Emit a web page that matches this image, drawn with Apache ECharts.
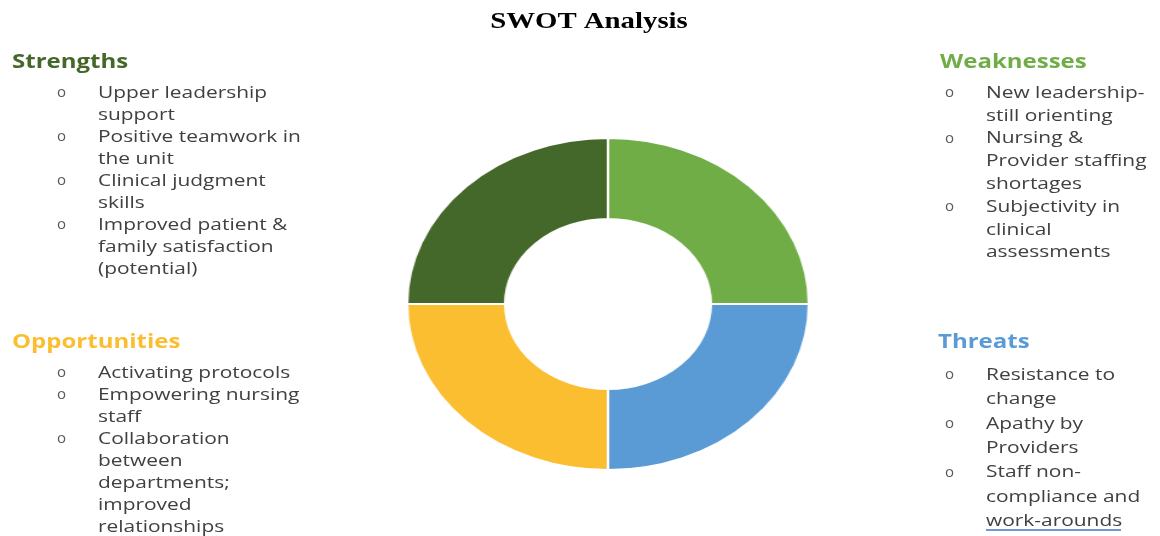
<!DOCTYPE html>
<html>
<head>
<meta charset="utf-8">
<script src="https://cdn.jsdelivr.net/npm/echarts@6/dist/echarts.min.js"></script>
<style>
  body { margin: 0; background: #fff; }
  #main { position: absolute; left: 0; top: 0; width: 1160px; height: 536px; }
  #donut { position: absolute; left: 438px; top: 134px; width: 340px; height: 340px;
           transform: scaleX(1.21); transform-origin: 170px 170px; }
</style>
</head>
<body>
<div id="main"></div>
<div id="donut"></div>
<script>
// quadrants, clockwise from the top
const categories = ['Weaknesses', 'Threats', 'Opportunities', 'Strengths']
const values = [1, 1, 1, 1]
const colors = ['#70ad47', '#5b9bd5', '#fbbe31', '#44682a']

const strengths = [['Upper leadership', 'support'], ['Positive teamwork in', 'the unit'],
  ['Clinical judgment', 'skills'], ['Improved patient &', 'family satisfaction', '(potential)']]
const weaknesses = [['New leadership-', 'still orienting'], ['Nursing &', 'Provider staffing', 'shortages'],
  ['Subjectivity in', 'clinical', 'assessments']]
const opportunities = [['Activating protocols'], ['Empowering nursing', 'staff'],
  ['Collaboration', 'between', 'departments;', 'improved', 'relationships']]
const threats = [['Resistance to', 'change'], ['Apathy by', 'Providers'],
  ['Staff non-', 'compliance and', 'work-arounds']]

// the original picture is stretched sideways, so texts are widened too
const stretch = 1.23
const bodyFont = '17px "Open Sans"'
const headFont = 'bold 20px "Open Sans"'

function block(title, color, items, x, y, bx, tx, y0, lh) {
  const els = [{
    type: 'text', x: x, y: y, scaleX: 1.2,
    style: { text: title, font: headFont, fill: color, verticalAlign: 'middle' }
  }]
  let row = 0
  items.forEach(lines => {
    els.push({ type: 'text', x: bx, y: y0 + row * lh,
      style: { text: 'o', font: '15px "Open Sans"', fill: '#595959', verticalAlign: 'middle' } })
    lines.forEach(l => {
      els.push({ type: 'text', x: tx, y: y0 + row * lh, scaleX: stretch,
        style: { text: l, font: bodyFont, fill: '#404040', verticalAlign: 'middle' } })
      row++
    })
  })
  return els
}

const graphics = [].concat(
  [{ type: 'text', x: 589, y: 22, scaleX: 1.2,
     style: { text: 'SWOT Analysis', font: 'bold 24px "Liberation Serif"', fill: '#000',
              align: 'center', verticalAlign: 'middle' } }],
  block('Strengths', colors[3], strengths, 12, 62, 57, 98, 93, 22),
  block('Opportunities', colors[2], opportunities, 12, 342, 57, 98, 373, 22),
  block('Weaknesses', colors[0], weaknesses, 940, 62, 945, 986, 93, 22.8),
  block('Threats', colors[1], threats, 938, 342, 945, 986, 375, 24.4),
  [{ type: 'line', shape: { x1: 986, y1: 530, x2: 1121, y2: 530 },
     style: { stroke: '#4472c4', lineWidth: 1.5 } }]
)

const main = echarts.init(document.getElementById('main'))
main.setOption({
  graphic: graphics
})

const donut = echarts.init(document.getElementById('donut'))
donut.setOption({
  series: [{
    type: 'pie',
    center: ['50%', '50%'],
    radius: [85, 166],
    startAngle: 90,
    clockwise: true,
    silent: true,
    label: { show: false },
    labelLine: { show: false },
    itemStyle: { borderColor: '#fff', borderWidth: 2 },
    data: categories.map((c, i) => ({ name: c, value: values[i], itemStyle: { color: colors[i] } }))
  }]
})
</script>
</body>
</html>
